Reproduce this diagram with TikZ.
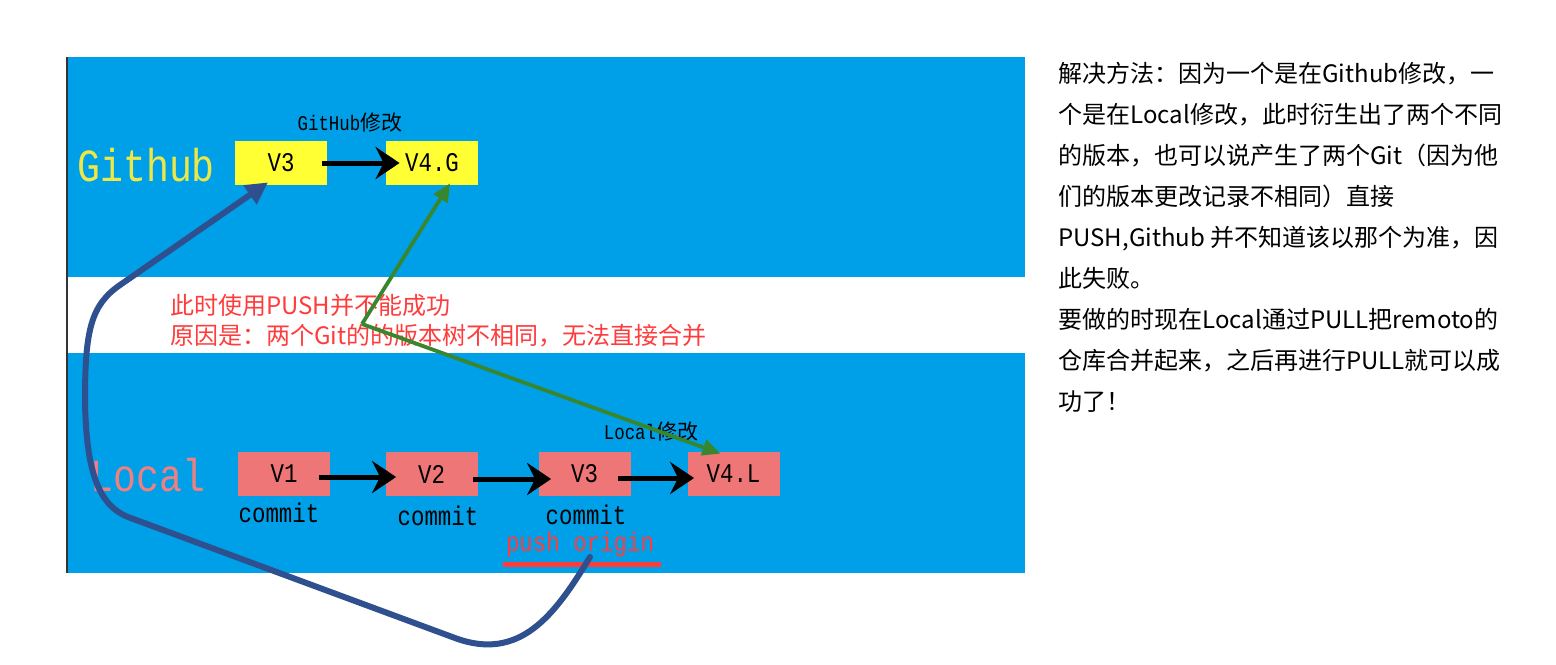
\documentclass[tikz,border=0pt]{standalone}
\usepackage{fontspec}
\newfontfamily\cjk{Noto Sans CJK SC}
\newfontfamily\mono[FakeStretch=0.83]{Liberation Mono}
\usetikzlibrary{arrows.meta}
\definecolor{bandblue}{RGB}{0,160,233}
\definecolor{gityellow}{RGB}{255,255,51}
\definecolor{salmon}{RGB}{238,118,118}
\definecolor{labelyellow}{RGB}{238,232,70}
\definecolor{labelsalmon}{RGB}{240,128,128}
\definecolor{curveblue}{RGB}{47,80,143}
\definecolor{arrowgreen}{RGB}{56,135,46}
\definecolor{warnred}{RGB}{255,60,60}
\tikzset{
  verbox/.style={minimum width=46pt,minimum height=22pt,inner sep=0pt,
    font=\mono\fontsize{13.5}{16}\selectfont,text=black},
  ghbox/.style={verbox,fill=gityellow},
  lcbox/.style={verbox,fill=salmon},
  bigarrow/.style={line width=2.5pt,black,-{Stealth[length=12pt,width=16pt,inset=4pt]}},
  greenarrow/.style={line width=1.9pt,arrowgreen,-{Triangle[length=9pt,width=8pt]}},
  pusharrow/.style={line width=3pt,curveblue,-{Triangle[length=11pt,width=11pt]}},
  bandlabel/.style={inner sep=0pt,anchor=base west,font=\mono\fontsize{23}{27}\selectfont},
  smalllabel/.style={inner sep=0pt,font=\mono\fontsize{10.5}{13}\selectfont,text=black},
  commitlabel/.style={inner sep=0pt,font=\mono\fontsize{13.5}{16}\selectfont,text=black},
  note/.style={inner sep=0pt,anchor=base west,align=left,font=\cjk\fontsize{12}{20.5}\selectfont},
  warnnote/.style={note,font=\cjk\fontsize{12}{15}\selectfont,text=warnred}
}
\begin{document}
\begin{tikzpicture}[x=0.5pt,y=-0.5pt]
\useasboundingbox (0,0) rectangle (1556,664);
\fill[white] (0,0) rectangle (1556,664);
\fill[bandblue] (68,57) rectangle (1025,277);
\fill[bandblue] (68,353) rectangle (1025,573);
\draw[line width=1pt,black!80] (67,57) -- (67,573);

% band labels
\node[bandlabel,text=labelyellow] (ghlabel) at (77,181) {Github};
\node[bandlabel,text=labelsalmon] (lclabel) at (90,491) {Local};

% Github boxes
\node[ghbox] (g3) at (281,163) {V3};
\node[ghbox] (g4) at (432,163) {V4.G};
\draw[bigarrow] ([xshift=-2.5pt]g3.east) -- ([xshift=7pt]g4.west);
\node[smalllabel] (ghmod) at (350,123) {GitHub{\cjk 修改}};

% Local boxes
\node[lcbox] (l1) at (284,474) {V1};
\node[lcbox] (l2) at (431.5,474) {V2};
\node[lcbox] (l3) at (584.5,474) {V3};
\node[lcbox] (l4) at (733.5,474) {V4.L};
\draw[bigarrow] ([xshift=-5.5pt,yshift=-1.5pt]l1.east) -- ([xshift=5.5pt,yshift=-1.5pt]l2.west);
\draw[bigarrow] ([xshift=-2.5pt,yshift=-2.5pt]l2.east) -- ([xshift=6.5pt,yshift=-2.5pt]l3.west);
\draw[bigarrow] ([xshift=-6.5pt,yshift=-2pt]l3.east) -- ([xshift=3.5pt,yshift=-2pt]l4.west);
\node[smalllabel] (lcmod) at (651,432) {Local{\cjk 修改}};

\node[commitlabel] (c1) at (279,513) {commit};
\node[commitlabel] (c2) at (438,516) {commit};
\node[commitlabel] (c3) at (586,515) {commit};
\node[commitlabel,text=warnred] (push) at (580,545) {push origin};
\coordinate (ulA) at (503,564);
\coordinate (ulB) at (661,564);
\draw[line width=2.5pt,warnred] (ulA) -- (ulB);

% red explanation (anchor = baseline of last line)
\node[warnnote] (why) at (170,344) {此时使用PUSH并不能成功\\原因是：两个Git的的版本树不相同，无法直接合并};

% blue push curve
\coordinate (ps) at (590,557);
\draw[pusharrow,line cap=round] (ps) .. controls (555,615) and (520,662) .. (455,638) -- (128,517)
  .. controls (98,505) and (86,470) .. (85,400)
  .. controls (85,330) and (91,305) .. (120,285) -- ([xshift=-6.5pt,yshift=1.5pt]g3.south);

% green arrows
\coordinate (gv) at (362,324);
\draw[greenarrow] (gv) -- ([xshift=9pt,yshift=1pt]g4.south);
\draw[greenarrow] (gv) -- ([xshift=-6.5pt,yshift=-1pt]l4.north);

% right-hand text (anchor = baseline of last line)
\node[note,text=black] (solution) at (1058,410) {解决方法：因为一个是在Github修改，一\\个是在Local修改，此时衍生出了两个不同\\的版本，也可以说产生了两个Git（因为他\\们的版本更改记录不相同）直接\\PUSH,Github 并不知道该以那个为准，因\\此失败。\\要做的时现在Local通过PULL把remoto的\\仓库合并起来，之后再进行PULL就可以成\\功了！};
\end{tikzpicture}
\end{document}
